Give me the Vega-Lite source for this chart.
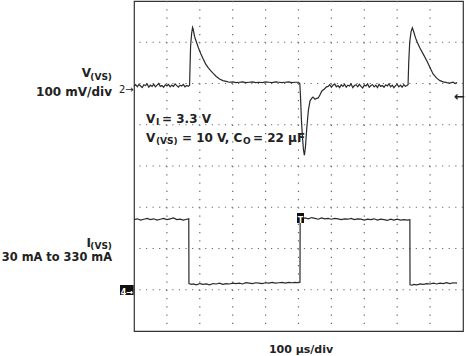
{
  "$schema": "https://vega.github.io/schema/vega-lite/v6.json",
  "width": 329,
  "height": 330,
  "autosize": {"type": "none"},
  "padding": {"left": 134, "top": 1, "right": 4, "bottom": 25},
  "background": "white",
  "config": {"view": {"stroke": "#333", "strokeWidth": 1.2}},
  "datasets": {
    "tx": [{"x":0},{"x":0.2},{"x":0.4},{"x":0.6},{"x":0.8},{"x":1},{"x":1.2},{"x":1.4},{"x":1.6},{"x":1.8},{"x":2},{"x":2.2},{"x":2.4},{"x":2.6},{"x":2.8},{"x":3},{"x":3.2},{"x":3.4},{"x":3.6},{"x":3.8},{"x":4},{"x":4.2},{"x":4.4},{"x":4.6},{"x":4.8},{"x":5},{"x":5.2},{"x":5.4},{"x":5.6},{"x":5.8},{"x":6},{"x":6.2},{"x":6.4},{"x":6.6},{"x":6.8},{"x":7},{"x":7.2},{"x":7.4},{"x":7.6},{"x":7.8},{"x":8},{"x":8.2},{"x":8.4},{"x":8.6},{"x":8.8},{"x":9},{"x":9.2},{"x":9.4},{"x":9.6},{"x":9.8},{"x":10}],
    "ty": [{"y":0},{"y":0.2},{"y":0.4},{"y":0.6},{"y":0.8},{"y":1},{"y":1.2},{"y":1.4},{"y":1.6},{"y":1.8},{"y":2},{"y":2.2},{"y":2.4},{"y":2.6},{"y":2.8},{"y":3},{"y":3.2},{"y":3.4},{"y":3.6},{"y":3.8},{"y":4},{"y":4.2},{"y":4.4},{"y":4.6},{"y":4.8},{"y":5},{"y":5.2},{"y":5.4},{"y":5.6},{"y":5.8},{"y":6},{"y":6.2},{"y":6.4},{"y":6.6},{"y":6.8},{"y":7},{"y":7.2},{"y":7.4},{"y":7.6},{"y":7.8},{"y":8}],
    "gx": [{"x":1},{"x":2},{"x":3},{"x":4},{"x":5},{"x":6},{"x":7},{"x":8},{"x":9}],
    "gy": [{"y":1},{"y":2},{"y":3},{"y":4},{"y":5},{"y":6},{"y":7}],
    "volt": [
      {"x":0.00,"y":5.93},{"x":0.05,"y":5.97},{"x":0.10,"y":5.92},{"x":0.15,"y":5.98},{"x":0.20,"y":5.94},{"x":0.25,"y":5.90},{"x":0.30,"y":5.97},{"x":0.35,"y":5.95},{"x":0.40,"y":5.99},{"x":0.45,"y":5.91},{"x":0.50,"y":5.96},{"x":0.55,"y":5.93},{"x":0.60,"y":5.98},{"x":0.65,"y":5.92},{"x":0.70,"y":5.96},{"x":0.75,"y":6.00},{"x":0.80,"y":5.93},{"x":0.85,"y":5.95},{"x":0.90,"y":5.91},{"x":0.95,"y":5.97},{"x":1.00,"y":5.94},{"x":1.05,"y":5.98},{"x":1.10,"y":5.92},{"x":1.15,"y":5.96},{"x":1.20,"y":5.93},{"x":1.25,"y":5.99},{"x":1.30,"y":5.95},{"x":1.35,"y":5.91},{"x":1.40,"y":5.96},{"x":1.45,"y":5.94},{"x":1.50,"y":5.98},{"x":1.55,"y":5.92},{"x":1.60,"y":5.95},{"x":1.65,"y":5.93},{"x":1.69,"y":5.96},
      {"x":1.70,"y":6.3},{"x":1.72,"y":6.9},{"x":1.75,"y":7.2},{"x":1.78,"y":7.36},{"x":1.80,"y":7.32},{"x":1.84,"y":7.14},{"x":1.90,"y":7.0},{"x":1.96,"y":6.86},{"x":2.03,"y":6.72},{"x":2.10,"y":6.60},{"x":2.18,"y":6.47},{"x":2.26,"y":6.38},{"x":2.33,"y":6.31},{"x":2.40,"y":6.25},{"x":2.50,"y":6.17},{"x":2.60,"y":6.11},{"x":2.70,"y":6.07},{"x":2.80,"y":6.05},{"x":2.90,"y":6.03},
      {"x":3.0,"y":6.04},{"x":3.1,"y":6.02},{"x":3.2,"y":6.03},{"x":3.3,"y":6.04},{"x":3.4,"y":6.02},{"x":3.5,"y":6.03},{"x":3.6,"y":6.04},{"x":3.7,"y":6.02},{"x":3.8,"y":6.03},{"x":3.9,"y":6.02},{"x":4.0,"y":6.04},{"x":4.1,"y":6.03},{"x":4.2,"y":6.02},{"x":4.3,"y":6.04},{"x":4.4,"y":6.03},{"x":4.5,"y":6.02},{"x":4.6,"y":6.03},{"x":4.7,"y":6.04},{"x":4.8,"y":6.02},{"x":4.9,"y":6.03},{"x":5.0,"y":6.03},
      {"x":5.04,"y":6.0},{"x":5.06,"y":5.7},{"x":5.09,"y":5.1},{"x":5.12,"y":4.7},{"x":5.15,"y":4.4},{"x":5.18,"y":4.26},{"x":5.21,"y":4.45},{"x":5.25,"y":4.9},{"x":5.30,"y":5.35},{"x":5.35,"y":5.58},{"x":5.40,"y":5.64},{"x":5.44,"y":5.67},{"x":5.50,"y":5.62},{"x":5.55,"y":5.64},{"x":5.60,"y":5.65},{"x":5.65,"y":5.72},{"x":5.71,"y":5.82},{"x":5.78,"y":5.86},{"x":5.85,"y":5.92},
      {"x":5.90,"y":5.93},{"x":5.95,"y":5.97},{"x":6.00,"y":5.91},{"x":6.05,"y":5.96},{"x":6.10,"y":5.99},{"x":6.15,"y":5.92},{"x":6.20,"y":5.95},{"x":6.25,"y":5.90},{"x":6.30,"y":5.97},{"x":6.35,"y":5.93},{"x":6.40,"y":5.98},{"x":6.45,"y":5.91},{"x":6.50,"y":5.96},{"x":6.55,"y":5.94},{"x":6.60,"y":5.99},{"x":6.65,"y":5.90},{"x":6.70,"y":5.95},{"x":6.75,"y":5.97},{"x":6.80,"y":5.92},{"x":6.85,"y":5.98},{"x":6.90,"y":5.93},{"x":6.95,"y":5.89},{"x":7.00,"y":5.96},{"x":7.05,"y":5.94},{"x":7.10,"y":5.99},{"x":7.15,"y":5.91},{"x":7.20,"y":5.95},{"x":7.25,"y":5.97},{"x":7.30,"y":5.92},{"x":7.35,"y":5.96},{"x":7.40,"y":5.90},{"x":7.45,"y":5.98},{"x":7.50,"y":5.93},{"x":7.55,"y":5.95},{"x":7.60,"y":5.91},{"x":7.65,"y":5.97},{"x":7.70,"y":5.94},{"x":7.75,"y":5.99},{"x":7.80,"y":5.92},{"x":7.85,"y":5.96},{"x":7.90,"y":5.90},{"x":7.95,"y":5.95},{"x":8.00,"y":5.98},{"x":8.05,"y":5.92},{"x":8.10,"y":5.96},{"x":8.15,"y":5.91},{"x":8.20,"y":5.97},{"x":8.25,"y":5.93},{"x":8.30,"y":5.95},
      {"x":8.33,"y":5.97},{"x":8.35,"y":6.5},{"x":8.38,"y":7.0},{"x":8.42,"y":7.25},{"x":8.46,"y":7.35},{"x":8.50,"y":7.26},{"x":8.56,"y":7.1},{"x":8.62,"y":6.98},{"x":8.69,"y":6.86},{"x":8.80,"y":6.70},{"x":8.90,"y":6.55},{"x":9.00,"y":6.38},{"x":9.09,"y":6.23},{"x":9.20,"y":6.13},{"x":9.30,"y":6.07},{"x":9.40,"y":6.04},{"x":9.51,"y":6.02},{"x":9.60,"y":6.01},{"x":9.70,"y":6.03},{"x":9.76,"y":6.0},{"x":9.82,"y":6.02}
    ],
    "curr": [
      {"x":0.0,"y":2.70},{"x":0.1,"y":2.72},{"x":0.2,"y":2.69},{"x":0.3,"y":2.71},{"x":0.4,"y":2.73},{"x":0.5,"y":2.70},{"x":0.6,"y":2.72},{"x":0.7,"y":2.69},{"x":0.8,"y":2.71},{"x":0.9,"y":2.73},{"x":1.0,"y":2.70},{"x":1.1,"y":2.72},{"x":1.2,"y":2.74},{"x":1.3,"y":2.70},{"x":1.4,"y":2.71},{"x":1.5,"y":2.69},{"x":1.6,"y":2.71},{"x":1.665,"y":2.72},
      {"x":1.67,"y":1.15},{"x":1.75,"y":1.13},{"x":1.8,"y":1.14},{"x":1.9,"y":1.12},{"x":2.0,"y":1.15},{"x":2.1,"y":1.13},{"x":2.2,"y":1.14},{"x":2.3,"y":1.12},{"x":2.4,"y":1.15},{"x":2.5,"y":1.14},{"x":2.6,"y":1.16},{"x":2.7,"y":1.13},{"x":2.8,"y":1.15},{"x":2.9,"y":1.14},{"x":3.0,"y":1.16},{"x":3.1,"y":1.15},{"x":3.2,"y":1.16},{"x":3.3,"y":1.14},{"x":3.4,"y":1.17},{"x":3.5,"y":1.16},{"x":3.6,"y":1.15},{"x":3.7,"y":1.17},{"x":3.8,"y":1.16},{"x":3.9,"y":1.15},{"x":4.0,"y":1.17},{"x":4.1,"y":1.16},{"x":4.2,"y":1.18},{"x":4.3,"y":1.16},{"x":4.4,"y":1.17},{"x":4.5,"y":1.18},{"x":4.6,"y":1.16},{"x":4.7,"y":1.18},{"x":4.8,"y":1.17},{"x":4.9,"y":1.18},{"x":5.0,"y":1.17},{"x":5.045,"y":1.18},
      {"x":5.05,"y":2.73},{"x":5.1,"y":2.72},{"x":5.2,"y":2.74},{"x":5.3,"y":2.72},{"x":5.4,"y":2.75},{"x":5.5,"y":2.73},{"x":5.6,"y":2.71},{"x":5.7,"y":2.74},{"x":5.8,"y":2.72},{"x":5.9,"y":2.73},{"x":6.0,"y":2.71},{"x":6.1,"y":2.73},{"x":6.2,"y":2.72},{"x":6.3,"y":2.70},{"x":6.4,"y":2.72},{"x":6.5,"y":2.71},{"x":6.6,"y":2.73},{"x":6.7,"y":2.70},{"x":6.8,"y":2.72},{"x":6.9,"y":2.71},{"x":7.0,"y":2.69},{"x":7.1,"y":2.71},{"x":7.2,"y":2.70},{"x":7.3,"y":2.72},{"x":7.4,"y":2.69},{"x":7.5,"y":2.71},{"x":7.6,"y":2.70},{"x":7.7,"y":2.68},{"x":7.8,"y":2.71},{"x":7.9,"y":2.69},{"x":8.0,"y":2.71},{"x":8.1,"y":2.69},{"x":8.2,"y":2.70},{"x":8.3,"y":2.69},{"x":8.385,"y":2.70},
      {"x":8.39,"y":1.12},{"x":8.45,"y":1.11},{"x":8.5,"y":1.13},{"x":8.6,"y":1.12},{"x":8.7,"y":1.14},{"x":8.8,"y":1.13},{"x":8.9,"y":1.15},{"x":9.0,"y":1.14},{"x":9.1,"y":1.16},{"x":9.2,"y":1.14},{"x":9.3,"y":1.16},{"x":9.4,"y":1.15},{"x":9.5,"y":1.17},{"x":9.6,"y":1.15},{"x":9.7,"y":1.17},{"x":9.82,"y":1.16}
    ]
  },
  "encoding": {
    "x": {"field": "x", "type": "quantitative", "scale": {"domain": [0, 10], "nice": false, "zero": false}, "axis": null},
    "y": {"field": "y", "type": "quantitative", "scale": {"domain": [0, 8], "nice": false, "zero": false}, "axis": null}
  },
  "layer": [
    {"data": {"name": "gx"}, "mark": {"type": "rule", "color": "#666", "strokeWidth": 1.2, "strokeDash": [1.2, 7.05]}, "encoding": {"y": null}},
    {"data": {"name": "gy"}, "mark": {"type": "rule", "color": "#666", "strokeWidth": 1.2, "strokeDash": [1.2, 5.38]}, "encoding": {"x": null}},
    {"data": {"name": "tx"}, "mark": {"type": "tick", "orient": "vertical", "size": 6, "thickness": 1, "color": "#666", "clip": true}, "encoding": {"y": {"datum": 0, "type": "quantitative"}}},
    {"data": {"name": "tx"}, "mark": {"type": "tick", "orient": "vertical", "size": 6, "thickness": 1, "color": "#666", "clip": true}, "encoding": {"y": {"datum": 4, "type": "quantitative"}}},
    {"data": {"name": "tx"}, "mark": {"type": "tick", "orient": "vertical", "size": 6, "thickness": 1, "color": "#666", "clip": true}, "encoding": {"y": {"datum": 8, "type": "quantitative"}}},
    {"data": {"name": "ty"}, "mark": {"type": "tick", "orient": "horizontal", "size": 6, "thickness": 1, "color": "#666", "clip": true}, "encoding": {"x": {"datum": 0, "type": "quantitative"}}},
    {"data": {"name": "ty"}, "mark": {"type": "tick", "orient": "horizontal", "size": 6, "thickness": 1, "color": "#666", "clip": true}, "encoding": {"x": {"datum": 5, "type": "quantitative"}}},
    {"data": {"name": "ty"}, "mark": {"type": "tick", "orient": "horizontal", "size": 6, "thickness": 1, "color": "#666", "clip": true}, "encoding": {"x": {"datum": 10, "type": "quantitative"}}},
    {"data": {"name": "volt"}, "mark": {"type": "line", "color": "#2a2a2a", "strokeWidth": 1.2}},
    {"data": {"name": "curr"}, "mark": {"type": "line", "color": "#2a2a2a", "strokeWidth": 1.2}},
    {"data": {"values": [{"x": -0.426, "x2": -0.01, "y": 1.115, "y2": 0.873}, {"x": 4.954, "x2": 5.167, "y": 2.86, "y2": 2.618}]},
     "mark": {"type": "rect", "color": "#111"},
     "encoding": {"x2": {"field": "x2"}, "y2": {"field": "y2"}}},
    {"data": {"values": [{"x": -0.213, "y": 0.915, "t": "4→"}, {"x": 5.06, "y": 2.66, "t": "T"}]},
     "mark": {"type": "text", "color": "white", "font": "DejaVu Sans", "fontWeight": "bold", "fontSize": 8, "align": "center"},
     "encoding": {"text": {"field": "t"}}},
    {"data": {"values": [{"x": -0.01, "y": 5.835, "t": "2→"}]},
     "mark": {"type": "text", "color": "#222", "font": "DejaVu Sans", "fontSize": 10, "align": "right"},
     "encoding": {"text": {"field": "t"}}},
    {"data": {"values": [{"x": 9.73, "y": 5.67, "t": "←"}]},
     "mark": {"type": "text", "color": "#222", "font": "DejaVu Sans", "fontWeight": "bold", "fontSize": 13, "align": "left"},
     "encoding": {"text": {"field": "t"}}},
    {"data": {"values": [{"x": -1.307, "y": 6.255, "t": "V"}, {"x": -0.669, "y": 5.794, "t": "100 mV/div"}, {"x": -1.307, "y": 2.133, "t": "I"}]},
     "mark": {"type": "text", "color": "#222", "font": "DejaVu Sans", "fontWeight": "bold", "fontSize": 12, "align": "right"},
     "encoding": {"text": {"field": "t"}}},
    {"data": {"values": [{"x": -0.669, "y": 1.77, "t": "30 mA to 330 mA"}]},
     "mark": {"type": "text", "color": "#222", "font": "DejaVu Sans", "fontWeight": "bold", "fontSize": 11.4, "align": "right"},
     "encoding": {"text": {"field": "t"}}},
    {"data": {"values": [{"x": -0.669, "y": 6.16, "t": "(VS)"}, {"x": -0.669, "y": 2.06, "t": "(VS)"}]},
     "mark": {"type": "text", "color": "#222", "font": "DejaVu Sans", "fontWeight": "bold", "fontSize": 9, "align": "right"},
     "encoding": {"text": {"field": "t"}}},
    {"data": {"values": [{"x": 0.365, "y": 5.139, "t": "V"}, {"x": 0.851, "y": 5.139, "t": "= 3.3 V"}, {"x": 0.365, "y": 4.679, "t": "V"}, {"x": 1.459, "y": 4.679, "t": "= 10 V, C"}, {"x": 3.617, "y": 4.679, "t": "= 22 µF"}]},
     "mark": {"type": "text", "color": "#222", "font": "DejaVu Sans", "fontWeight": "bold", "fontSize": 12, "align": "left"},
     "encoding": {"text": {"field": "t"}}},
    {"data": {"values": [{"x": 0.669, "y": 5.067, "t": "I"}, {"x": 0.669, "y": 4.606, "t": "(VS)"}, {"x": 3.313, "y": 4.606, "t": "O"}]},
     "mark": {"type": "text", "color": "#222", "font": "DejaVu Sans", "fontWeight": "bold", "fontSize": 9, "align": "left"},
     "encoding": {"text": {"field": "t"}}},
    {"data": {"values": [{"x": 5.076, "y": -0.47, "t": "100 µs/div"}]},
     "mark": {"type": "text", "color": "#222", "font": "DejaVu Sans", "fontWeight": "bold", "fontSize": 11, "align": "center"},
     "encoding": {"text": {"field": "t"}}}
  ]
}
